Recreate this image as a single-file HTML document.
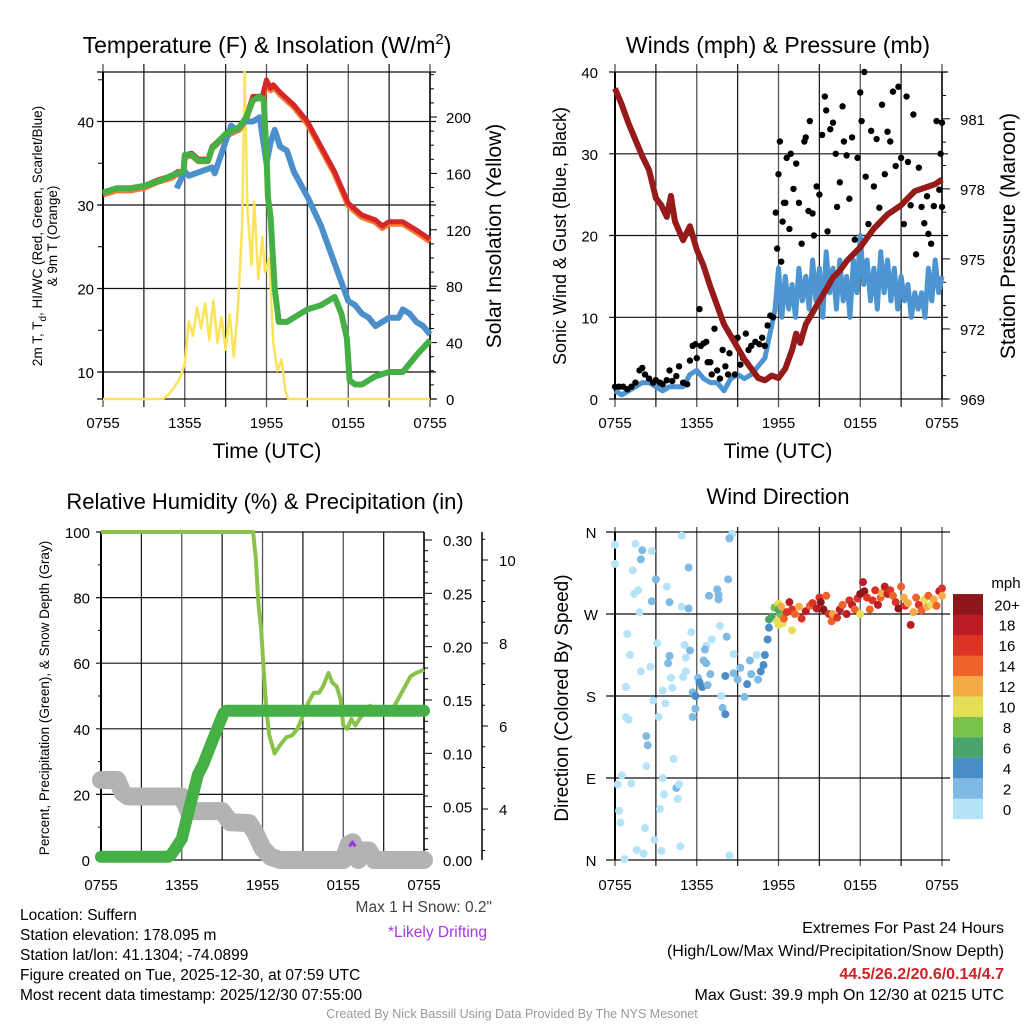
<!DOCTYPE html>
<html><head><meta charset="utf-8"><style>
body{margin:0;background:#fff}
svg{display:block;font-family:"Liberation Sans",sans-serif}
</style></head><body>
<svg id="fig" width="1024" height="1024" viewBox="0 0 1024 1024" xmlns="http://www.w3.org/2000/svg">
<g id="layer"></g>
</svg>
<script>
// ---------- Temperature panel data (hours since 0755) ----------
const tempH=[0,1,2,3,4,5,5.5,5.9,6,6.5,7,7.7,8,9,10,10.5,11,11.7,12,12.3,12.5,13,14,15,16,17,18,18.5,19,20,20.5,21,22,23,24];
const tempRed=[31.5,32,32,32.3,33,33.5,34,34,36,36.2,35.5,35.5,37,38.5,39.3,40.5,43,43,45,44,44.4,43.5,42,40,37,34,30.2,29.5,28.8,28.2,27.5,28,28,27,25.9];
const dewH=[0,1,2,3,4,5,5.5,5.9,6,6.5,7,7.7,8,9,10,10.5,11,11.5,11.8,12,12.1,12.3,12.6,12.9,13.5,14,15,16,17,17.5,17.9,18.1,18.5,19,20,21,22,23,24];
const dewGreen=[31.5,32,32,32.3,32.8,33.5,33.8,34,36,36,35.3,35.3,36.8,38.5,39.3,40.5,42.5,43,42.5,36,31,28.5,20,16,16,16.5,17.5,18,19,17,14,9,8.5,8.5,9.5,10,10,12,13.8];
const hiH=[5.4,5.7,6,6.3,8,8.2,9.4,9.8,10.4,11,11.5,12,12.3,12.6,13,13.5,14,15,16,17,18,18.5,19,19.5,20,20.5,21,21.7,22,22.5,23,23.5,24];
const hiBlue=[32,33,34,33.5,34.5,33.8,39.5,39,40,40,40.5,35,37.5,39,37,36.5,34,31,27.5,23,18.5,18,17,16.5,15.5,16,16.5,16.5,17.5,17,16,15.5,14.5];
const solH=[0,4.4,4.8,5.2,5.6,6,6.3,6.6,6.9,7.2,7.5,7.8,8.1,8.4,8.7,9,9.3,9.6,9.9,10.2,10.4,10.6,10.9,11.1,11.4,11.7,11.9,12.2,12.5,12.8,13.1,13.4,13.6,24];
const solVal=[0,0,3,8,14,25,55,45,65,50,68,42,70,40,58,35,60,30,65,120,232,135,95,140,85,115,90,100,40,20,28,5,0,0];
// ---------- Wind panel data ----------
const windH=[0,0.5,1,1.5,2,2.5,3,3.5,4,4.5,5,5.5,6,6.5,7,7.5,8,8.5,9,9.5,10,10.5,11,11.5,11.75,12,12.25,12.5,12.75,13,13.25,13.5,13.75,14,14.25,14.5,14.75,15,15.25,15.5,15.75,16,16.25,16.5,16.75,17,17.25,17.5,17.75,18,18.25,18.5,18.75,19,19.25,19.5,19.75,20,20.25,20.5,20.75,21,21.25,21.5,21.75,22,22.25,22.5,22.75,23,23.25,23.5,23.75,24];
const windSpd=[1,0.5,1,1.5,2,2,1.5,1,1.5,1.5,1.5,3,3.5,2.5,2,2,1,2.5,3,2.5,3,4,5,9,11,16,10,15,11,14,10,16,12,15,11,17,12,16,10,18,13,16,11,17,12,15,10,17,13,20,14,17,12,16,11,18,13,17,12,16,11,15,12,14,10,13,11,13,10,16,12,17,13,15];
const gustH=[0,0.3,0.6,0.9,1.2,1.5,1.8,2,2.2,2.5,2.8,3,3.3,3.5,3.8,4,4.2,4.5,4.7,5,5.3,5.5,5.7,5.9,6,6.2,6.3,6.5,6.7,6.8,7,7.1,7.3,7.5,7.7,7.9,8.1,8.3,8.4,8.6,8.8,9,9.2,9.4,9.6,9.8,10,10.3,10.6,10.8,11,11.2,11.4,11.6,11.8,11.9,12,12.1,12.2,12.3,12.4,12.5,12.6,12.8,12.9,13.1,13.3,13.5,13.7,13.9,14,14.2,14.3,14.5,14.6,14.8,15,15.2,15.4,15.5,15.6,15.8,16,16.2,16.3,16.5,16.7,16.8,17,17.2,17.4,17.6,17.8,18,18.1,18.3,18.4,18.6,18.8,19,19.2,19.4,19.6,19.8,20,20.2,20.4,20.6,20.8,21,21.2,21.4,21.5,21.7,21.9,22.1,22.3,22.5,22.7,22.9,23,23.2,23.4,23.6,23.8,23.9,24,24];
const gustVal=[1.5,1.5,1.5,1.2,1.5,2,3.5,3.8,3,2.5,2,2.3,2,1.8,2.3,3.5,2.2,2.8,4,2,1.8,4.7,6.5,6.7,5,11,6.5,6.8,7,4.5,4.5,3,8.6,3.5,2.5,6,4,3,5.6,7.5,3,7.5,4.2,5,8,6,6.5,7,6.7,7.5,6.5,9,10.2,10,22.8,18.4,27.5,31.5,16.8,21.7,24,24,29.5,20.8,30,25.7,28.8,24,19,31.5,32,23,34,22.7,20,26,25,32.3,37,35.3,20.5,33,33.8,30,23.5,26.5,35.8,31.5,29.8,24.5,32,19.5,29.5,37.5,34,40,27.2,21.4,32.8,26,31.8,23.4,36,27.5,32.7,31.5,37.6,28.5,38.2,29.5,21.4,37,29,23.7,34.8,17.7,28.3,23.5,21.5,24.8,20.2,19,23.6,34,25.6,30,33.8,23.5];
const presH=[0,0.5,1,1.5,2,2.5,3,3.4,3.8,4.1,4.4,5,5.5,6,6.5,7,7.5,8,8.5,9,9.5,10,10.5,11,11.5,12,12.5,13,13.3,13.6,14,14.5,15,15.5,16,16.5,17,17.5,18,18.5,19,19.5,20,20.5,21,21.5,22,22.5,23,23.5,24];
const presVal=[982.3,981.6,980.8,980.1,979.4,978.8,977.6,977.3,976.8,977.7,976.6,975.8,976.4,975.4,974.7,973.8,973.0,972.2,971.7,971.2,970.7,970.3,969.9,969.8,970.0,969.9,970.3,971.1,971.8,971.4,972.2,972.7,973.2,973.7,974.2,974.5,974.9,975.2,975.5,975.9,976.3,976.6,976.9,977.1,977.3,977.6,977.9,978.0,978.1,978.2,978.4];
// ---------- RH / precip / snow data ----------
const rhH=[0,11.3,11.5,11.7,11.9,12.1,12.3,12.5,12.9,13.3,13.8,14.2,14.6,15,15.4,15.8,16.2,16.5,16.9,17.2,17.5,17.8,18,18.3,18.6,18.9,19.2,19.6,20,20.4,20.8,21.4,21.8,22.2,22.6,23,23.4,24];
const rhVal=[100,100,92,78,70,57,45,38,32.5,35,37.5,38,40,44,48,51,51,53,57,54,53,49,41,40,43,41,43,45,47,45,46,46,47,50,53,56,57,58];
const prH=[0,5,5.2,5.5,6,6.4,6.8,7.2,7.6,8.1,8.6,9.1,9.3,24];
const prVal=[0.003,0.003,0.005,0.01,0.02,0.04,0.06,0.08,0.09,0.106,0.122,0.1375,0.14,0.14];
const snH=[0,1.2,1.6,2,6,6.5,9,9.6,11,11.5,12,12.6,13.3,18,18.4,18.7,19.1,19.5,19.9,20.3,24];
const snVal=[4.7,4.7,4.4,4.3,4.3,3.95,3.95,3.68,3.66,3.4,3.05,2.85,2.77,2.77,3.15,3.2,2.77,3.0,3.0,2.77,2.77];
// ---------- Wind direction data ----------
const dirH=[0,0,1.5,2,1.9,2.7,1.3,1.4,1.7,1.8,3,2.7,3.8,4,4.9,5.4,4.9,5.4,0.9,1.1,1.9,2.6,0.8,3.1,4,3.9,4.1,4.2,3.5,2.8,3.7,3.2,0.8,1,2.3,2.4,2.3,4.3,0.5,0.2,1.2,3.5,4.5,4.7,4.6,3.6,3.3,0.3,0.4,2.2,2.9,3.4,4.8,1.6,2.1,0.7,8.4,8.6,8.4,8.3,7.5,7.6,6.9,7.6,7.7,8.2,5.6,5.1,5.5,5.2,7.1,6.7,6.6,6.5,6.7,8.7,5.2,5,6.1,6.2,6.4,5.7,5.9,5.9,5.7,6.8,7,7.8,7.9,8.1,8.1,8.7,9,9.2,9.5,9.7,9.9,10,10.4,10.5,10.7,10.9,11,11.2,11.3,11.3,11.5,11.7,12,12.0,12.1,12.0,11.9,12.3,13,12.2,12.4,12.6,12.8,13.0,13.2,13.5,13.7,14,14.3,14.5,14.8,15,15.1,15.3,15.5,15.7,15.9,16,16.3,16.5,16.7,17,17.2,17.4,17.6,17.8,18,18,18.2,18.3,18.5,18.7,18.9,19.1,19.3,19.5,19.6,19.8,20,20.2,20.4,20.6,20.8,21,21.2,21.3,21.5,21.7,21.9,22.1,22.3,22.5,22.7,22.9,23,23.2,23.4,23.6,23.8,24,24];
const dirDeg=[346,325,347,340,330,339,318,292,296,272,308,284,300,283,356,321,278,276,248,225,207,212,190,238,224,216,200,189,186,175,172,157,157,154,136,126,103,111,93,83,84,90,79,83,67,72,56,54,41,35,22,10,15,11,7,1,5,358,353,308,297,291,290,286,257,245,250,236,230,222,242,235,231,219,216,226,207,201,200,195,190,184,180,166,157,192,204,180,167,160,202,205,198,211,179,193,219,204,225,198,207,214,225,242,255,264,267,277,258,281,270,275,262,260,252,278,265,272,283,275,270,278,265,273,279,282,276,288,283,275,290,270,262,270,266,275,280,270,285,280,275,287,270,292,305,295,288,275,285,296,280,288,293,300,292,296,290,283,276,300,288,279,282,258,272,288,280,274,286,278,290,280,286,279,295,298,290,283,290];
const dirSpd=[1,1,1,3,3,1,1,1,1,1,3,3,1,3,1,3,1,3,1,1,1,1,1,1,3,3,1,1,1,1,1,1,1,1,3,3,1,1,1,1,1,1,3,1,1,1,1,1,1,1,1,1,1,1,1,1,1,1,3,3,3,3,3,3,1,3,1,1,3,1,1,1,3,3,3,1,1,1,3,5,5,3,5,3,3,3,3,1,3,5,5,3,3,3,3,5,3,3,1,3,5,5,5,5,5,7,7,9,11,11,9,7,11,11,11,13,15,17,19,17,15,13,17,19,15,17,19,17,21,21,15,17,15,13,17,19,15,19,17,19,15,17,11,21,19,21,17,15,17,17,19,15,13,19,19,17,15,17,21,15,13,17,13,19,13,15,17,15,11,13,15,11,13,15,19,17,13,21];
const cbLabels=["0","2","4","6","8","10","12","14","16","18","20+"];
const cbColors=["#b5e3f8","#7fbae4","#4a8dc6","#4aa56c","#7bc24b","#e5df57","#f6aa45","#ef622c","#db3427","#bb1d25","#8e161b"];

const NS="http://www.w3.org/2000/svg";
const L=document.getElementById('layer');
function mk(tag,attrs,parent){const e=document.createElementNS(NS,tag);for(const k in attrs)e.setAttribute(k,attrs[k]);(parent||L).appendChild(e);return e;}
function txt(x,y,s,size,anchor,extra,parent){const e=mk('text',Object.assign({x:x,y:y,'font-size':size,'text-anchor':anchor||'middle',fill:'#000'},extra||{}),parent);e.textContent=s;return e;}
function grp(name){const g=mk('g',{});return g;}
function pathFrom(hs,vs,X,Y){return hs.map((h,i)=>(i?'L':'M')+X(h).toFixed(1)+' '+Y(vs[i]).toFixed(1)).join(' ');}
const xtl=["0755","1355","1955","0155","0755"];

function frame(g,x0,x1,y0,y1,hLines,X){
  for(let k=0;k<=8;k++){const x=X(k*3);mk('line',{x1:x,x2:x,y1:y0-8,y2:y1+8,stroke:k%2?'#222':'#555','stroke-width':1.3},g);}
  hLines.forEach(y=>mk('line',{x1:x0-6,x2:x1+6,y1:y,y2:y,stroke:'#111','stroke-width':1.2},g));
  mk('line',{x1:x0,x2:x0,y1:y0,y2:y1,stroke:'#000','stroke-width':2},g);
  mk('line',{x1:x1,x2:x1,y1:y0,y2:y1,stroke:'#000','stroke-width':1.5},g);
}
function xlabels(g,X,y){for(let k=0;k<5;k++){const t=txt(X(k*6),y,xtl[k],15,'middle',{},g);}}

// ===== Panel 1: Temperature =====
(function(){
  const g=grp('temperature-panel');
  const X=h=>103+h*13.625, Yt=v=>372-(v-10)*8.35, Ys=v=>399-v*1.41;
  frame(g,103,430,72,399,[72,121.5,205,288.5,372,399],X);
  for(let v=0;v<=230;v+=10){mk('line',{x1:430,x2:v%40?434:437,y1:Ys(v),y2:Ys(v),stroke:'#000'},g);}
  for(let v=10;v<=45;v+=5){mk('line',{x1:98,x2:103,y1:Yt(v),y2:Yt(v),stroke:'#000'},g);}
  [10,20,30,40].forEach(v=>txt(94,Yt(v)+6,String(v),15,'end',{},g));
  [0,40,80,120,160,200].forEach(v=>txt(446,Ys(v)+6,String(v),15,'start',{},g));
  const sol=mk('path',{d:pathFrom(solH,solVal,X,Ys),fill:'none',stroke:'#fbe35a','stroke-width':2.5,'stroke-linejoin':'round'},g);
  
  const or=mk('path',{d:pathFrom(tempH,tempRed.map(v=>v-0.25),X,Yt),fill:'none',stroke:'#f47a32','stroke-width':6,'stroke-linejoin':'round'},g);
  
  const red=mk('path',{d:pathFrom(tempH,tempRed,X,Yt),fill:'none',stroke:'#d62728','stroke-width':5,'stroke-linejoin':'round'},g);
  
  const bl=mk('path',{d:pathFrom(hiH,hiBlue,X,Yt),fill:'none',stroke:'#4b8fcb','stroke-width':6,'stroke-linejoin':'round'},g);
  
  const gr=mk('path',{d:pathFrom(dewH,dewGreen,X,Yt),fill:'none',stroke:'#45b045','stroke-width':6,'stroke-linejoin':'round'},g);
  
  xlabels(g,X,428);
  let t=txt(267,53,'',23,'middle',{},g);t.innerHTML='Temperature (F) &amp; Insolation (W/m<tspan dy="-9" font-size="15">2</tspan><tspan dy="9">)</tspan>';
  
  t=txt(267,458,'Time (UTC)',21,'middle',{},g);
  t=txt(0,0,'',13.5,'middle',{transform:'translate(42,236) rotate(-90)'},g);t.innerHTML='2m T, T<tspan dy="4" font-size="10">d</tspan><tspan dy="-4">, HI/WC (Red, Green, Scarlet/Blue)</tspan>';
  
  t=txt(0,0,'& 9m T (Orange)',13.5,'middle',{transform:'translate(57,236) rotate(-90)'},g);
  t=txt(0,0,'Solar Insolation (Yellow)',21,'middle',{transform:'translate(501,236) rotate(-90)'},g);
  
})();

// ===== Panel 2: Winds =====
(function(){
  const g=grp('winds-panel');
  const X=h=>615+h*13.625, Yw=v=>399-v*8.175, Yp=p=>399-(p-969)*23.35;
  frame(g,615,942,72,399,[72,153.8,235.5,317.3,399],X);
  for(let p=969;p<=983;p++){mk('line',{x1:942,x2:p%3?946:950,y1:Yp(p),y2:Yp(p),stroke:'#000'},g);}
  [0,10,20,30,40].forEach(v=>txt(598,Yw(v)+6,String(v),15,'end',{},g));
  [969,972,975,978,981].forEach(v=>txt(960,Yp(v)+6,String(v),15,'start',{},g));
  const w=mk('path',{d:pathFrom(windH,windSpd,X,Yw),fill:'none',stroke:'#4d95d1','stroke-width':5,'stroke-linejoin':'round'},g);
  
  gustH.forEach((h,i)=>{const c=mk('circle',{cx:X(h),cy:Yw(gustVal[i]),r:3.2,fill:'#000'},g);
    
    });
  const p=mk('path',{d:pathFrom(presH,presVal,X,Yp),fill:'none',stroke:'#961a1a','stroke-width':6,'stroke-linejoin':'round'},g);
  
  xlabels(g,X,428);
  let t=txt(778,53,'Winds (mph) & Pressure (mb)',23,'middle',{},g);
  t=txt(778,458,'Time (UTC)',21,'middle',{},g);
  t=txt(0,0,'Sonic Wind & Gust (Blue, Black)',18,'middle',{transform:'translate(566,236) rotate(-90)'},g);
  t=txt(0,0,'Station Pressure (Maroon)',21,'middle',{transform:'translate(1015,236) rotate(-90)'},g);
})();

// ===== Panel 3: RH & Precip =====
(function(){
  const g=grp('humidity-panel');
  const X=h=>101+h*13.46, Yr=v=>860-v*3.28, Ypr=v=>860-v/0.30*320, Ysn=v=>809-(v-4)*41.5;
  for(let k=0;k<=8;k++){const x=X(k*3);mk('line',{x1:x,x2:x,y1:532,y2:860,stroke:k%2?'#222':'#555','stroke-width':1.3},g);}
  [532,597.6,663.2,728.8,794.4,860].forEach(y=>mk('line',{x1:96,x2:424,y1:y,y2:y,stroke:'#111','stroke-width':1.2},g));
  for(let v=10;v<100;v+=20)mk('line',{x1:98,x2:101,y1:Yr(v),y2:Yr(v),stroke:'#000'},g);
  mk('line',{x1:101,x2:101,y1:532,y2:860,stroke:'#000','stroke-width':2},g);
  mk('line',{x1:424,x2:424,y1:532,y2:860,stroke:'#000','stroke-width':1.5},g);
  for(let v=0;v<=0.301;v+=0.01){const m=Math.round(v*100)%5==0;mk('line',{x1:424,x2:m?432:428,y1:Ypr(v),y2:Ypr(v),stroke:'#000'},g);}
  mk('line',{x1:482,x2:482,y1:532,y2:860,stroke:'#000','stroke-width':1.5},g);
  for(let v=3;v<=10.5;v+=0.5){mk('line',{x1:482,x2:v%2==0?488:485,y1:Ysn(v),y2:Ysn(v),stroke:'#000'},g);}
  [0,20,40,60,80,100].forEach(v=>txt(90,Yr(v)+6,String(v),15,'end',{},g));
  ['0.00','0.05','0.10','0.15','0.20','0.25','0.30'].forEach(s=>txt(443,Ypr(+s)+6,s,15,'start',{},g));
  [4,6,8,10].forEach(v=>txt(499,Ysn(v)+6,String(v),15,'start',{},g));
  const sn=mk('path',{d:pathFrom(snH,snVal,X,Ysn),fill:'none',stroke:'#b3b3b3','stroke-width':18,'stroke-linejoin':'round','stroke-linecap':'round'},g);
  
  const dr=mk('path',{d:'M'+(X(18.45))+' '+(Ysn(3.1))+' l3 -4 l3 4',fill:'none',stroke:'#9b30e0','stroke-width':3},g);
  
  const rh=mk('path',{d:pathFrom(rhH,rhVal,X,Yr),fill:'none',stroke:'#8bc34a','stroke-width':4,'stroke-linejoin':'round'},g);
  
  const pr=mk('path',{d:pathFrom(prH,prVal,X,Ypr),fill:'none',stroke:'#45b045','stroke-width':12,'stroke-linejoin':'round','stroke-linecap':'round'},g);
  
  xlabels(g,X,890);
  let t=txt(265,509,'Relative Humidity (%) & Precipitation (in)',22,'middle',{},g);
  t=txt(0,0,'Percent, Precipitation (Green), & Snow Depth (Gray)',13.5,'middle',{transform:'translate(49,698) rotate(-90)'},g);
  t=txt(492,912,'Max 1 H Snow: 0.2"',15.5,'end',{fill:'#444'},g);
  t=txt(487,937,'*Likely Drifting',15.5,'end',{fill:'#a637e8'},g);
})();

// ===== Panel 4: Wind direction =====
(function(){
  const g=grp('wind-direction-panel');
  const X=h=>615+h*13.625, Yd=d=>860-d*(328/360);
  for(let k=0;k<=8;k++){const x=X(k*3);mk('line',{x1:x,x2:x,y1:527,y2:866,stroke:k%2?'#222':'#555','stroke-width':1.3},g);}
  [0,90,180,270,360].forEach(d=>mk('line',{x1:606,x2:950,y1:Yd(d),y2:Yd(d),stroke:'#111','stroke-width':1.2},g));
  mk('line',{x1:615,x2:615,y1:532,y2:860,stroke:'#000','stroke-width':2},g);
  [['N',0],['E',90],['S',180],['W',270],['N',360]].forEach(a=>txt(591,Yd(a[1])+6,a[0],15,'middle',{},g));
  dirH.forEach((h,i)=>{const s=dirSpd[i];const bin=Math.min(10,Math.floor(s/2));
    const c=mk('circle',{cx:X(h),cy:Yd(dirDeg[i]),r:4,fill:cbColors[bin]},g);
    
    });
  const cb=grp('colorbar');
  cbColors.forEach((c,i)=>{mk('rect',{x:953,y:819-(i+1)*20.45,width:30,height:20.6,fill:c},cb);
    txt(1007,819-(i+0.5)*20.45+6,cbLabels[i],15,'middle',{},cb);});
  txt(1006,588,'mph',15,'middle',{},cb);
  xlabels(g,X,890);
  let t=txt(778,504,'Wind Direction',22,'middle',{},g);
  t=txt(0,0,'Direction (Colored By Speed)',19,'middle',{transform:'translate(568,698) rotate(-90)'},g);
})();
</script>
<div style="position:absolute;left:0;top:0;width:1024px;height:1024px;pointer-events:none;font-family:'Liberation Sans',sans-serif">
  <div style="position:absolute;left:20px;top:906px;font-size:15.5px;line-height:20px;color:#000">
    <div>Location: Suffern</div>
    <div>Station elevation: 178.095 m</div>
    <div>Station lat/lon: 41.1304; -74.0899</div>
    <div>Figure created on Tue, 2025-12-30, at 07:59 UTC</div>
    <div>Most recent data timestamp: 2025/12/30 07:55:00</div>
  </div>
  <div style="position:absolute;right:20px;top:917px;text-align:right;font-size:16px;line-height:23px;color:#000">
    <div>Extremes For Past 24 Hours</div>
    <div>(High/Low/Max Wind/Precipitation/Snow Depth)</div>
    <div style="color:#cc2229;font-weight:bold">44.5/26.2/20.6/0.14/4.7</div>
    <div style="line-height:20px">Max Gust: 39.9 mph On 12/30 at 0215 UTC</div>
  </div>
  <div style="position:absolute;left:0;width:1024px;top:1007px;text-align:center;font-size:12.5px;color:#999">Created By Nick Bassill Using Data Provided By The NYS Mesonet</div>
</div>
</body></html>
